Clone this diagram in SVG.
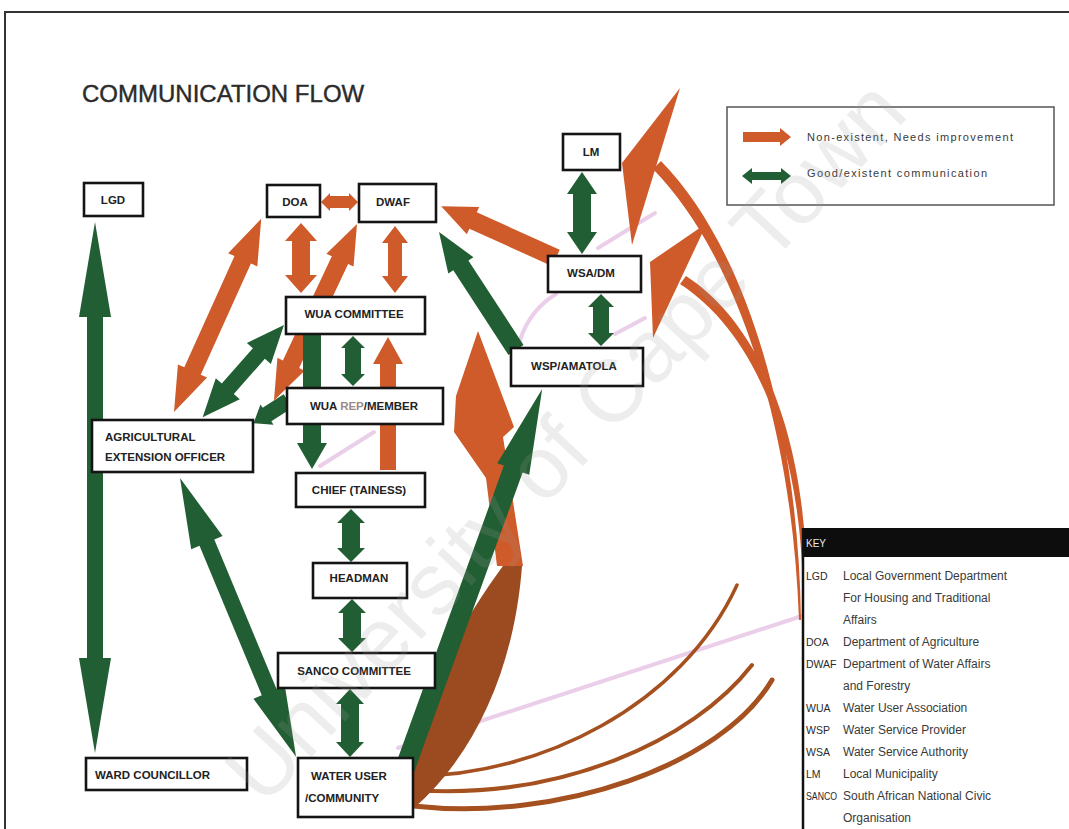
<svg xmlns="http://www.w3.org/2000/svg" width="1069" height="829" viewBox="0 0 1069 829">
  <style>
    .g { fill: #225e33; }
    .o { fill: #cf5a2a; }
    .br { fill: #9c4a20; }
    .arc { fill: none; stroke: #a5501f; stroke-linecap: round; }
    .pk { fill: none; stroke: #e6c2e4; stroke-width: 4; stroke-linecap: round; opacity: 0.8; }
    .box { fill: #ffffff; stroke: #141414; stroke-width: 2.6; }
    .lbl { font-family: "Liberation Sans", Arial, sans-serif; font-weight: bold; font-size: 11.5px; fill: #222; }
    .mid { text-anchor: middle; }
    .abbr { font-family: "Liberation Sans", Arial, sans-serif; font-size: 10.5px; fill: #2a2a2a; }
    .key { font-family: "Liberation Sans", Arial, sans-serif; font-size: 12px; fill: #3a3a3a; }
    .keyhead { font-family: "Liberation Sans", Arial, sans-serif; font-size: 10px; fill: #e8e8e8; }
    .leg { font-family: "Liberation Sans", Arial, sans-serif; font-size: 11px; fill: #3a3a3a; }
  </style>

  <rect x="0" y="0" width="1069" height="829" fill="#ffffff"/>
  <!-- page frame -->
  <path d="M5,829 L5,12 L1069,12" fill="none" stroke="#333" stroke-width="2"/>

  <text x="82" y="102" font-family="Liberation Sans, Arial, sans-serif" font-size="24" fill="#2b2b2b" stroke="#2b2b2b" stroke-width="0.4">COMMUNICATION FLOW</text>

  <!-- faint lilac streaks -->
  <g id="streaks">
    <path class="pk" d="M398,748 L805,615"/>
    <path class="pk" d="M320,466 L374,432"/>
    <path class="pk" d="M520,340 Q530,310 556,294"/>
    <path class="pk" d="M598,248 L655,213"/>
    <path class="pk" d="M615,334 L645,318"/>
  </g>

  <g id="connectors">
    <!-- long curved arrows from the community to LM and WSA/DM -->
    <path class="arc" stroke-width="5" d="M413,806 C560,822 722,765 772,680"/>
    <path class="arc" stroke-width="4" d="M413,790 C560,800 692,742 752,665"/>
    <path class="arc" stroke-width="3.5" d="M413,776 C540,776 682,705 737,585"/>
    <path class="o" d="M653,169 C735,253 792,421 799,620 L801,620 C798,419 745,247 661,161 Z"/>
    <path class="o" d="M680,284 C757,334 806,452 803,620 L806,620 C813,448 763,326 686,276 Z"/>
    <polygon class="o" points="680,88 622,163 632,245"/>
    <polygon class="o" points="707,223 650,262 653,338"/>

    <!-- big curved arrow rising from the community -->
    <path class="br" d="M506,562 L522,566 C515,660 480,750 414,808 L414,765 C420,690 470,610 506,562 Z"/>
    <path class="o" d="M478,331 L514,427 L503,437 L523,566 L497,566 L486,478 L454,432 L456,396 Z"/>

    <!-- orange: non-existent / needs improvement -->
    <path class="o" transform="translate(321,202)" d="M0,0 L9,-9 L9,-6 L28,-6 L28,-9 L37,0 L28,9 L28,6 L9,6 L9,9 Z"/>
    <path class="o" transform="translate(301,223) rotate(90)" d="M0,0 L18,-16 L18,-9 L52,-9 L52,-16 L70,0 L52,16 L52,9 L18,9 L18,16 Z"/>
    <path class="o" transform="translate(395,226) rotate(90)" d="M0,0 L17,-13 L17,-7 L50,-7 L50,-13 L67,0 L50,13 L50,7 L17,7 L17,13 Z"/>
    <path class="o" transform="translate(174,412) rotate(-65.7)" d="M0,0 L45,-16 L45,-9 L167,-9 L167,-16 L212,0 L167,16 L167,9 L45,9 L45,16 Z"/>
    <path class="o" transform="translate(357,224) rotate(115.2)" d="M0,0 L40,-15 L40,-9 L155,-9 L155,-15 L195,0 L155,15 L155,9 L40,9 L40,15 Z"/>
    <path class="o" transform="translate(388,470) rotate(-90)" d="M0,-8 L106,-8 L106,-15 L133,0 L106,15 L106,8 L0,8 Z"/>
    <path class="o" transform="translate(556,258) rotate(-155.7)" d="M0,-9 L91,-9 L91,-15 L126,0 L91,15 L91,9 L0,9 Z"/>

    <!-- green: good / existent -->
    <path class="g" transform="translate(95,222) rotate(90)" d="M0,0 L95,-16 L95,-8 L436,-8 L436,-16 L531,0 L436,16 L436,8 L95,8 L95,16 Z"/>
    <path class="g" transform="translate(180,478) rotate(67.4)" d="M0,0 L70,-17 L70,-8 L232,-8 L232,-17 L302,0 L232,17 L232,8 L70,8 L70,17 Z"/>
    <path class="g" transform="translate(284,325) rotate(131.4)" d="M0,0 L38,-16 L38,-8 L85,-8 L85,-16 L123,0 L85,16 L85,8 L38,8 L38,16 Z"/>
    <path class="g" transform="translate(288,401) rotate(147.1)" d="M0,-8 L25,-8 L25,-12 L41,0 L25,12 L25,8 L0,8 Z"/>
    <path class="g" transform="translate(312,334) rotate(90)" d="M0,-9 L109,-9 L109,-15 L135,0 L109,15 L109,9 L0,9 Z"/>
    <path class="g" transform="translate(353,336) rotate(90)" d="M0,0 L12,-12 L12,-8 L38,-8 L38,-12 L50,0 L38,12 L38,8 L12,8 L12,12 Z"/>
    <path class="g" transform="translate(351,509) rotate(90)" d="M0,0 L14,-14 L14,-9 L39,-9 L39,-14 L53,0 L39,14 L39,9 L14,9 L14,14 Z"/>
    <path class="g" transform="translate(352,599) rotate(90)" d="M0,0 L14,-14 L14,-9 L39,-9 L39,-14 L53,0 L39,14 L39,9 L14,9 L14,14 Z"/>
    <path class="g" transform="translate(350,689) rotate(90)" d="M0,0 L15,-14 L15,-9 L53,-9 L53,-14 L68,0 L53,14 L53,9 L15,9 L15,14 Z"/>
    <path class="g" transform="translate(405,768) rotate(-70.1)" d="M0,-10 L318,-10 L318,-17 L403,0 L318,17 L318,10 L0,10 Z"/>
    <path class="g" transform="translate(516,350) rotate(-123.1)" d="M0,-9 L101,-9 L101,-15 L141,0 L101,15 L101,9 L0,9 Z"/>
    <path class="g" transform="translate(582,172) rotate(90)" d="M0,0 L22,-15 L22,-9 L60,-9 L60,-15 L82,0 L60,15 L60,9 L22,9 L22,15 Z"/>
    <path class="g" transform="translate(601,294) rotate(90)" d="M0,0 L13,-13 L13,-8 L39,-8 L39,-13 L52,0 L39,13 L39,8 L13,8 L13,13 Z"/>
  </g>

  <g id="lgd"><rect class="box" x="84" y="183" width="59" height="33"/><text class="lbl mid" x="113" y="204">LGD</text></g>
  <g id="doa"><rect class="box" x="267" y="185" width="53" height="32"/><text class="lbl mid" x="295" y="206">DOA</text></g>
  <g id="dwaf"><rect class="box" x="359" y="184" width="77" height="38"/><text class="lbl mid" x="393" y="206">DWAF</text></g>
  <g id="lm"><rect class="box" x="563" y="134" width="57" height="36"/><text class="lbl mid" x="591" y="156">LM</text></g>
  <g id="wsa-dm"><rect class="box" x="548" y="256" width="93" height="36"/><text class="lbl mid" x="591" y="277">WSA/DM</text></g>
  <g id="wsp-amatola"><rect class="box" x="511" y="348" width="132" height="38"/><text class="lbl mid" x="574" y="370">WSP/AMATOLA</text></g>
  <g id="wua-committee"><rect class="box" x="286" y="297" width="139" height="37"/><text class="lbl mid" x="354" y="318">WUA COMMITTEE</text></g>
  <g id="wua-rep"><rect class="box" x="287" y="388" width="156" height="36"/><text class="lbl mid" x="364" y="410">WUA <tspan fill="#9a8a8a">REP</tspan>/MEMBER</text></g>
  <g id="extension-officer"><rect class="box" x="92" y="420" width="161" height="52"/><text class="lbl" x="105" y="441">AGRICULTURAL</text><text class="lbl" x="105" y="461">EXTENSION OFFICER</text></g>
  <g id="chief"><rect class="box" x="296" y="473" width="129" height="34"/><text class="lbl mid" x="359" y="494">CHIEF (TAINESS)</text></g>
  <g id="headman"><rect class="box" x="313" y="563" width="94" height="35"/><text class="lbl mid" x="359" y="582">HEADMAN</text></g>
  <g id="sanco"><rect class="box" x="278" y="653" width="157" height="35"/><text class="lbl mid" x="354" y="675">SANCO COMMITTEE</text></g>
  <g id="ward-councillor"><rect class="box" x="86" y="758" width="161" height="32"/><text class="lbl" x="95" y="779">WARD COUNCILLOR</text></g>
  <g id="water-user"><rect class="box" x="298" y="758" width="115" height="59"/><text class="lbl" x="311" y="780">WATER USER</text><text class="lbl" x="305" y="802">/COMMUNITY</text></g>

  <!-- legend -->
  <g id="legend">
    <rect x="727" y="107" width="327" height="98" fill="#ffffff" stroke="#555" stroke-width="1.5"/>
    <path class="o" d="M743,132 L780,132 L780,128 L791,137 L780,146 L780,142 L743,142 Z"/>
    <path class="g" d="M742,176 L752,168 L752,172 L781,172 L781,168 L791,176 L781,184 L781,180 L752,180 L752,184 Z"/>
    <text class="leg" x="807" y="141" textLength="206" lengthAdjust="spacing">Non-existent, Needs  improvement</text>
    <text class="leg" x="807" y="177" textLength="180" lengthAdjust="spacing">Good/existent  communication</text>
  </g>

  <!-- abbreviation key -->
  <g id="key">
    <rect x="802" y="528" width="267" height="301" fill="#ffffff"/>
    <rect x="802" y="528" width="267" height="29" fill="#0d0d0d"/>
    <line x1="803" y1="528" x2="803" y2="829" stroke="#111" stroke-width="2.5"/>
    <text class="keyhead" x="806" y="547">KEY</text>
    <text class="abbr" x="806" y="580">LGD</text><text class="key" x="843" y="580">Local Government Department</text>
    <text class="key" x="843" y="602">For Housing and Traditional</text>
    <text class="key" x="843" y="624">Affairs</text>
    <text class="abbr" x="806" y="646">DOA</text><text class="key" x="843" y="646">Department of Agriculture</text>
    <text class="abbr" x="806" y="668">DWAF</text><text class="key" x="843" y="668">Department of Water Affairs</text>
    <text class="key" x="843" y="690">and Forestry</text>
    <text class="abbr" x="806" y="712">WUA</text><text class="key" x="843" y="712">Water User Association</text>
    <text class="abbr" x="806" y="734">WSP</text><text class="key" x="843" y="734">Water Service Provider</text>
    <text class="abbr" x="806" y="756">WSA</text><text class="key" x="843" y="756">Water Service Authority</text>
    <text class="abbr" x="806" y="778">LM</text><text class="key" x="843" y="778">Local Municipality</text>
    <text class="abbr" x="806" y="800" textLength="31" lengthAdjust="spacingAndGlyphs">SANCO</text><text class="key" x="843" y="800">South African National Civic</text>
    <text class="key" x="843" y="822">Organisation</text>
  </g>

  <!-- faint diagonal watermark -->
  <text x="264" y="808" transform="rotate(-47 264 808)" font-family="Liberation Sans, Arial, sans-serif" font-size="88" fill="#9a9a9a" fill-opacity="0.18">University of Cape Town</text>
</svg>
